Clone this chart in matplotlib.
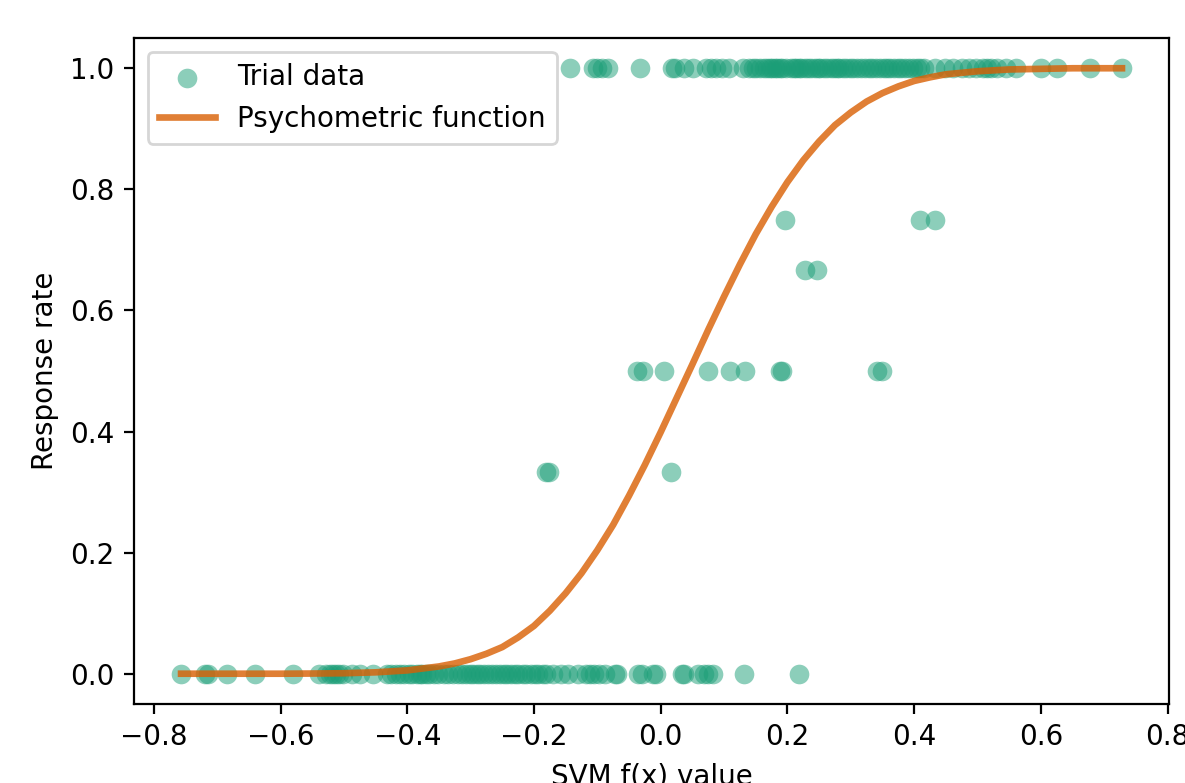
import matplotlib
matplotlib.use("Agg")
import matplotlib.pyplot as plt

# trial data: SVM decision value and response rate
x_zero = [
    -0.757, -0.720, -0.715, -0.684, -0.641, -0.581, -0.540,
    -0.528, -0.522, -0.517, -0.512, -0.508, -0.502,
    -0.488, -0.474, -0.454,
    -0.432, -0.425, -0.418, -0.412, -0.405, -0.398, -0.392, -0.385,
    -0.380, -0.376, -0.371, -0.365, -0.358, -0.352,
    -0.342, -0.335, -0.328, -0.320, -0.314, -0.308, -0.301, -0.296,
    -0.290, -0.285, -0.279, -0.272, -0.266, -0.260, -0.254, -0.248,
    -0.243, -0.236, -0.230, -0.225, -0.218, -0.212, -0.205, -0.199,
    -0.193, -0.186, -0.181,
    -0.170, -0.158, -0.147, -0.130, -0.118, -0.112, -0.106, -0.098,
    -0.088, -0.072, -0.069, -0.036, -0.030, -0.012, -0.008,
    0.033, 0.036, 0.059, 0.069, 0.075, 0.082, 0.131, 0.219,
]
x_one = [
    -0.143, -0.107, -0.100, -0.093, -0.083, -0.033, 0.018, 0.023,
    0.037, 0.051, 0.072, 0.080, 0.088, 0.096, 0.108, 0.130, 0.140, 0.146,
    0.151, 0.157, 0.163, 0.168, 0.172, 0.176, 0.180, 0.184, 0.188, 0.192,
    0.198, 0.205, 0.210, 0.214, 0.218, 0.222, 0.227, 0.232, 0.238, 0.243,
    0.248, 0.252, 0.258, 0.262, 0.268, 0.273, 0.278, 0.282, 0.287, 0.292,
    0.298, 0.304, 0.310, 0.316, 0.322, 0.328, 0.334, 0.340, 0.346, 0.352,
    0.357, 0.362, 0.368, 0.374, 0.380, 0.386, 0.392, 0.398, 0.404, 0.410,
    0.416,
    0.433, 0.448, 0.462, 0.475, 0.487, 0.498, 0.508, 0.515, 0.522, 0.530,
    0.545, 0.560, 0.600, 0.625, 0.677, 0.728,
]
x_mid = [0.196, 0.409, 0.433, 0.227, 0.246,
         -0.038, -0.028, 0.005, 0.074, 0.109, 0.133, 0.189, 0.192, 0.342, 0.350,
         -0.181, -0.176, 0.017]
y_mid = [0.75, 0.75, 0.75, 0.667, 0.667,
         0.5, 0.5, 0.5, 0.5, 0.5, 0.5, 0.5, 0.5, 0.5, 0.5,
         0.333, 0.333, 0.333]

# fitted curve
curve_x = [-0.757, -0.70, -0.65, -0.60, -0.55, -0.50, -0.45, -0.40, -0.35,
           -0.325, -0.30, -0.275, -0.25, -0.225, -0.20, -0.175, -0.15,
           -0.125, -0.10, -0.075, -0.05, -0.025, 0.00, 0.025, 0.05, 0.075,
           0.10, 0.125, 0.15, 0.175, 0.20, 0.225, 0.25, 0.275, 0.30, 0.325,
           0.35, 0.375, 0.40, 0.425, 0.45, 0.50, 0.55, 0.60, 0.65, 0.728]
curve_y = [0.0, 0.0, 0.0, 0.0, 0.0003, 0.0008, 0.0023, 0.0055, 0.012,
           0.017, 0.024, 0.033, 0.044, 0.060, 0.079, 0.104, 0.133,
           0.166, 0.204, 0.246, 0.294, 0.345, 0.399, 0.455, 0.511, 0.568,
           0.623, 0.676, 0.726, 0.771, 0.812, 0.848, 0.879, 0.906, 0.927, 0.945,
           0.959, 0.970, 0.979, 0.985, 0.990, 0.995, 0.998, 0.999, 1.0, 1.0]

xs = x_zero + x_one + x_mid
ys = [0.0] * len(x_zero) + [1.0] * len(x_one) + y_mid

fig = plt.figure(figsize=(5.925, 3.915), dpi=200)
ax = fig.add_axes([0.1131, 0.1009, 0.8734, 0.8506])

ax.scatter(xs, ys, s=50, color='#1b9e77', alpha=0.5, linewidths=0,
           label='Trial data')
ax.plot(curve_x, curve_y, color='#d95f02', alpha=0.8, lw=2.4,
        label='Psychometric function')

ax.set_xlabel('SVM f(x) value')
ax.set_ylabel('Response rate')
ax.legend(loc='upper left')

fig.savefig('out.png', dpi=200)
